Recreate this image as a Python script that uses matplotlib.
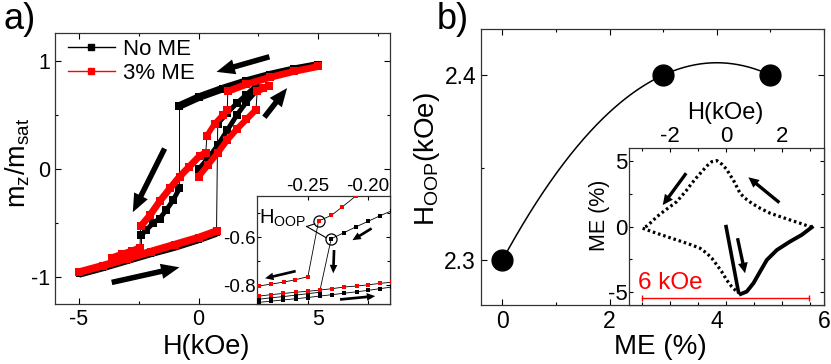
import numpy as np
import matplotlib
matplotlib.use('Agg')
import matplotlib.pyplot as plt
from matplotlib.lines import Line2D
from matplotlib.ticker import MultipleLocator, FormatStrFormatter

plt.rcParams['font.family'] = ['Liberation Sans', 'DejaVu Sans']
plt.rcParams['axes.unicode_minus'] = False
plt.rcParams['mathtext.fontset'] = 'custom'
plt.rcParams['mathtext.rm'] = 'Liberation Sans'

RED = '#ff0000'

# ---- panel a: m_z/m_sat vs H (kOe) ----
# No ME (black)
noME_upper_H = [5.0, 4.0, 3.0, 2.0, 1.0, 0.0, -0.8]
noME_upper_m = [0.965, 0.925, 0.875, 0.815, 0.745, 0.665, 0.585]
noME_middle_H = [-0.8, -1.07, -1.35, -1.63, -1.9, -2.18, -2.39]
noME_middle_m = [-0.18, -0.29, -0.38, -0.46, -0.50, -0.565, -0.61]
noME_lower_H = [-5.0, -4.0, -3.0, -2.0, -1.0, 0.0, 0.75]
noME_lower_m = [-0.975, -0.915, -0.85, -0.785, -0.725, -0.655, -0.595]
noME_rise_H = [0.8, 1.2, 1.6, 2.0, 2.4]
noME_rise_m = [0.42, 0.52, 0.61, 0.69, 0.77]
noME_init_H = [0.0, 0.4, 0.8, 1.2, 1.6, 2.0, 2.4]
noME_init_m = [0.0, 0.1, 0.22, 0.36, 0.5, 0.62, 0.72]

# 3% ME (red)
ME3_upper_H = [5.0, 4.0, 3.0, 2.0, 1.22]
ME3_upper_m = [0.95, 0.905, 0.85, 0.785, 0.72]
ME3_step_H = [1.2, 1.0, 0.67, 0.35]
ME3_step_m = [0.55, 0.5, 0.42, 0.31]
ME3_middle_H = [0.3, 0.04, -0.4, -0.79, -1.2, -1.63, -2.04, -2.42]
ME3_middle_m = [0.15, 0.12, 0.02, -0.07, -0.18, -0.30, -0.43, -0.53]
ME3_tail_H = [-2.45, -2.8, -3.2, -3.6]
ME3_tail_m = [-0.73, -0.76, -0.79, -0.82]
ME3_lower_H = [-5.0, -4.0, -3.0, -2.0, -1.0, 0.0, 0.75]
ME3_lower_m = [-0.955, -0.895, -0.83, -0.765, -0.70, -0.635, -0.575]
ME3_init_H = [0.0, 0.4, 0.8, 1.2, 1.6, 2.0, 2.4]
ME3_init_m = [-0.07, 0.04, 0.15, 0.27, 0.37, 0.46, 0.55]
ME3_join_H = [2.45, 2.7, 2.95]
ME3_join_m = [0.72, 0.75, 0.77]

# inset of a: zoom on the switching (H in T)
ins_red_desc_T = [-0.200, -0.2104, -0.2214, -0.2306, -0.2412,
                  -0.2501, -0.2607, -0.2702, -0.2807, -0.2912]
ins_red_desc_m = [-0.39, -0.430, -0.474, -0.510, -0.533,
                  -0.765, -0.778, -0.7875, -0.796, -0.804]
ins_black_desc_T = [-0.18, -0.1904, -0.2001, -0.2099, -0.2201, -0.2307,
                    -0.2404, -0.2503, -0.2603, -0.2706, -0.2808, -0.2908]
ins_black_desc_m = [-0.49, -0.512, -0.535, -0.557, -0.582, -0.607,
                    -0.830, -0.836, -0.842, -0.848, -0.853, -0.859]
ins_asc_T = [-0.2908, -0.2808, -0.2706, -0.2603, -0.2503, -0.2404,
             -0.2298, -0.2198, -0.2094, -0.1998, -0.19, -0.18]
ins_red_asc_m = [-0.846, -0.840, -0.835, -0.830, -0.826, -0.821,
                 -0.815, -0.808, -0.804, -0.799, -0.793, -0.788]
ins_black_asc_m = [-0.872, -0.867, -0.862, -0.857, -0.852, -0.846,
                   -0.840, -0.834, -0.828, -0.822, -0.815, -0.808]
hoop_red = (-0.2412, -0.533)
hoop_black = (-0.2307, -0.607)

# ---- panel b: H_OOP vs ME ----
me_percent = [0, 3, 5]
h_oop = [2.30, 2.40, 2.40]

# inset of b: ME (%) vs H (kOe)
loop_upper_H = [3.07, 2.65, 2.29, 1.94, 1.58, 1.22, 0.92, 0.68, 0.50, 0.38,
                0.26, 0.14, 0.02, -0.16, -0.33, -0.51, -0.69, -0.87, -1.05,
                -1.23, -1.41, -1.59, -1.77, -2.01, -2.25, -2.48, -2.66,
                -2.84, -2.99]
loop_upper_ME = [-0.05, 0.26, 0.51, 0.76, 1.02, 1.40, 1.78, 2.16, 2.54, 3.05,
                 3.55, 3.94, 4.37, 4.77, 5.03, 4.95, 4.62, 4.19, 3.76, 3.30,
                 2.79, 2.34, 1.90, 1.52, 1.14, 0.76, 0.38, 0.05, -0.12]
loop_lower_H = [-2.99, -2.66, -2.31, -1.95, -1.59, -1.23, -0.93, -0.69,
                -0.51, -0.33, -0.16, 0.02, 0.20, 0.38, 0.53]
loop_lower_ME = [-0.12, -0.38, -0.63, -0.89, -1.14, -1.40, -1.65, -2.03,
                 -2.41, -2.92, -3.42, -4.06, -4.57, -4.95, -5.13]
loop_rise_H = [0.53, 0.74, 0.98, 1.22, 1.46, 1.82, 2.29, 2.71, 3.07]
loop_rise_ME = [-5.13, -4.95, -4.31, -3.42, -2.54, -1.78, -1.14, -0.63, -0.05]
loop_init_H = [0.0, 0.44]
loop_init_ME = [0.0, -4.95]
scale_start = -3.02
scale_len = 6.0


def style_axes(ax, size, major=4, minor=2.5):
    ax.tick_params(which='both', direction='in', top=True, right=True,
                   labelsize=size, width=0.8)
    ax.tick_params(which='major', length=major)
    ax.tick_params(which='minor', length=minor)
    for s in ax.spines.values():
        s.set_linewidth(0.9)
        s.set_color('#333333')


def big_arrow(ax, tail, head, scale, tw=0.36, hw=1.0, hl=1.2):
    style = 'simple,tail_width=%g,head_width=%g,head_length=%g' % (tw, hw, hl)
    ax.annotate('', xy=head, xytext=tail,
                arrowprops=dict(arrowstyle=style, color='k', lw=0,
                                shrinkA=0, shrinkB=0, mutation_scale=scale))


def branch(ax, H, m, color, lw, ms, z):
    ax.plot(H, m, color=color, lw=lw, marker='s', ms=ms, mew=0,
            solid_capstyle='butt', zorder=z)


def link(ax, p, q, color='k'):
    ax.plot([p[0], q[0]], [p[1], q[1]], color=color, lw=0.7, zorder=1)


fig = plt.figure(figsize=(8.31, 3.64), dpi=100)

# ---------------- panel a ----------------
ax_a = fig.add_axes([0.0662, 0.1648, 0.4031, 0.7445])
style_axes(ax_a, 15.5)
ax_a.set_xlim(-6, 8)
ax_a.set_ylim(-1.25, 1.26)
ax_a.xaxis.set_major_locator(MultipleLocator(5))
ax_a.xaxis.set_minor_locator(MultipleLocator(2.5))
ax_a.yaxis.set_major_locator(MultipleLocator(1))
ax_a.yaxis.set_minor_locator(MultipleLocator(0.5))

# thin jump lines
link(ax_a, (noME_upper_H[-1], noME_upper_m[-1]), (noME_middle_H[0], noME_middle_m[0]))
link(ax_a, (noME_middle_H[-1], noME_middle_m[-1]),
     (noME_middle_H[-1], np.interp(noME_middle_H[-1], noME_lower_H, noME_lower_m)))
link(ax_a, (noME_lower_H[-1], noME_lower_m[-1]), (noME_rise_H[0], noME_rise_m[0]))
link(ax_a, (noME_rise_H[-1], noME_rise_m[-1]),
     (noME_rise_H[-1], np.interp(noME_rise_H[-1], noME_upper_H[::-1], noME_upper_m[::-1])))
link(ax_a, (ME3_upper_H[-1], ME3_upper_m[-1]), (ME3_step_H[0], ME3_step_m[0]))
link(ax_a, (ME3_step_H[-1], ME3_step_m[-1]), (ME3_middle_H[0], ME3_middle_m[0]))
link(ax_a, (ME3_middle_H[-1], ME3_middle_m[-1]), (ME3_tail_H[0], ME3_tail_m[0]))
link(ax_a, (ME3_init_H[-1], ME3_init_m[-1]), (ME3_join_H[0], ME3_join_m[0]))

# black loops
branch(ax_a, noME_upper_H, noME_upper_m, 'k', 5.5, 5.5, 2)
branch(ax_a, noME_lower_H, noME_lower_m, 'k', 5, 5, 2)
branch(ax_a, noME_middle_H, noME_middle_m, 'k', 3.5, 5.5, 2)
branch(ax_a, noME_rise_H, noME_rise_m, 'k', 3.5, 5.5, 2)
branch(ax_a, noME_init_H, noME_init_m, 'k', 3.5, 5.5, 2)
# red loops
branch(ax_a, ME3_upper_H, ME3_upper_m, RED, 5, 5.5, 3)
branch(ax_a, ME3_lower_H, ME3_lower_m, RED, 5.5, 5.5, 3)
branch(ax_a, ME3_step_H, ME3_step_m, RED, 4, 6, 3)
branch(ax_a, ME3_middle_H, ME3_middle_m, RED, 5, 6, 3)
branch(ax_a, ME3_tail_H, ME3_tail_m, RED, 5, 5.5, 3)
branch(ax_a, ME3_init_H, ME3_init_m, RED, 4.5, 6, 3)
branch(ax_a, ME3_join_H, ME3_join_m, RED, 5, 6, 3)

# sweep direction arrows
big_arrow(ax_a, (2.96, 1.04), (0.75, 0.90), 11)
big_arrow(ax_a, (2.75, 0.48), (3.7, 0.75), 11)
big_arrow(ax_a, (-1.42, 0.19), (-2.75, -0.40), 11)
big_arrow(ax_a, (-3.63, -1.05), (-0.8, -0.91), 11)

handles = [Line2D([], [], color='k', lw=1, marker='s', ms=4),
           Line2D([], [], color=RED, lw=1, marker='s', ms=4)]
ax_a.legend(handles, ['No ME', '3% ME'], loc='upper left',
            bbox_to_anchor=(0.026, 0.994), frameon=False, fontsize=16,
            handlelength=2.1, handletextpad=0.36, labelspacing=0.12,
            borderpad=0.2, borderaxespad=0)

ax_a.set_xlabel('H(kOe)', fontsize=19.5)
ax_a.xaxis.set_label_coords(0.453, -0.11)
ax_a.set_ylabel(r'm$_\mathregular{z}$/m$_\mathregular{sat}$', fontsize=19.5)
ax_a.yaxis.set_label_coords(-0.069, 0.52)

# inset of a
ax_ai = fig.add_axes([0.3093, 0.1648, 0.1600, 0.2967])
style_axes(ax_ai, 13.5, major=3, minor=2)
ax_ai.set_xlim(-0.2925, -0.1817)
ax_ai.set_ylim(-0.879, -0.429)
ax_ai.xaxis.set_major_locator(MultipleLocator(0.05))
ax_ai.yaxis.set_major_locator(MultipleLocator(0.2))
ax_ai.yaxis.set_minor_locator(MultipleLocator(0.1))
ax_ai.xaxis.set_major_formatter(FormatStrFormatter('%.2f'))
ax_ai.yaxis.set_major_formatter(FormatStrFormatter('%.1f'))
ax_ai.tick_params(labeltop=True, labelbottom=False, pad=1)

for T, m, c in [(ins_black_desc_T, ins_black_desc_m, 'k'),
                (ins_asc_T, ins_black_asc_m, 'k'),
                (ins_asc_T, ins_red_asc_m, RED),
                (ins_red_desc_T, ins_red_desc_m, RED)]:
    ax_ai.plot(T, m, color='k', lw=0.6, zorder=2)
    ax_ai.plot(T, m, ls='none', marker='s', ms=3.5, mew=0, color=c, zorder=3)

for c in (hoop_red, hoop_black):
    ax_ai.plot(c[0], c[1], marker='o', ms=8, mfc='none', mec='k', mew=0.9)
ax_ai.text(-0.2912, -0.545, r'H$_\mathregular{OOP}$', fontsize=14.5,
           va='baseline', ha='left')
ax_ai.plot([-0.2511, -0.2445], [-0.556, -0.545], color='k', lw=0.8)
ax_ai.plot([-0.2511, -0.2348], [-0.556, -0.603], color='k', lw=0.8)

big_arrow(ax_ai, (-0.2603, -0.742), (-0.2858, -0.772), 5.5, tw=0.35, hw=1.0, hl=1.1)
big_arrow(ax_ai, (-0.2283, -0.654), (-0.229, -0.751), 5.5, tw=0.35, hw=1.0, hl=1.1)
big_arrow(ax_ai, (-0.197, -0.564), (-0.213, -0.613), 5.5, tw=0.35, hw=1.0, hl=1.1)
big_arrow(ax_ai, (-0.2233, -0.86), (-0.194, -0.846), 5.5, tw=0.35, hw=1.0, hl=1.1)

# ---------------- panel b ----------------
ax_b = fig.add_axes([0.5788, 0.1621, 0.4128, 0.7582])
style_axes(ax_b, 16.5)
ax_b.set_xlim(-0.4, 6.0)
ax_b.set_ylim(2.2757, 2.4249)
ax_b.xaxis.set_major_locator(MultipleLocator(2))
ax_b.xaxis.set_minor_locator(MultipleLocator(1))
ax_b.yaxis.set_major_locator(MultipleLocator(0.1))
ax_b.yaxis.set_minor_locator(MultipleLocator(0.05))
ax_b.yaxis.set_major_formatter(FormatStrFormatter('%.1f'))

coef = np.polyfit(me_percent, h_oop, 2)
xs = np.linspace(min(me_percent), max(me_percent), 200)
ax_b.plot(xs, np.polyval(coef, xs), color='k', lw=1.1, zorder=2)
ax_b.plot(me_percent, h_oop, 'o', color='k', ms=15, zorder=3)

ax_b.set_xlabel('ME (%)', fontsize=20)
ax_b.xaxis.set_label_coords(0.522, -0.105)
ax_b.set_ylabel(r'H$_\mathregular{OOP}$(kOe)', fontsize=20)
ax_b.yaxis.set_label_coords(-0.114, 0.53)

# inset of b
ax_bi = fig.add_axes([0.7569, 0.1621, 0.2347, 0.4313])
style_axes(ax_bi, 16, major=3, minor=2)
ax_bi.set_xlim(-3.48, 3.51)
ax_bi.set_ylim(-5.97, 5.99)
ax_bi.xaxis.set_major_locator(MultipleLocator(2))
ax_bi.xaxis.set_minor_locator(MultipleLocator(1))
ax_bi.yaxis.set_major_locator(MultipleLocator(5))
ax_bi.yaxis.set_minor_locator(MultipleLocator(2.5))
ax_bi.tick_params(labeltop=True, labelbottom=False, pad=1)

dots = dict(color='k', lw=2.3, ls=(0, (0.8, 0.9)), dash_capstyle='butt')
ax_bi.plot(loop_upper_H, loop_upper_ME, **dots)
ax_bi.plot(loop_lower_H, loop_lower_ME, **dots)
ax_bi.plot(loop_rise_H, loop_rise_ME, color='k', lw=2.8)
ax_bi.plot(loop_init_H, loop_init_ME, color='k', lw=2.6)

ax_bi.plot([scale_start, scale_start + scale_len], [-5.45, -5.45], color=RED,
           lw=1, marker='|', ms=5, mew=1)
ax_bi.text(scale_start - 0.12, -4.75, '%d kOe' % scale_len, color=RED,
           fontsize=17.5, ha='left', va='baseline')

big_arrow(ax_bi, (-1.43, 4.07), (-2.27, 1.64), 7.5, tw=0.32, hw=0.95, hl=1.0)
big_arrow(ax_bi, (1.91, 1.83), (0.80, 3.76), 7.5, tw=0.32, hw=0.95, hl=1.0)
big_arrow(ax_bi, (0.41, -0.88), (0.68, -3.55), 7.5, tw=0.32, hw=0.95, hl=1.0)

ax_bi.set_xlabel('H(kOe)', fontsize=17)
ax_bi.xaxis.set_label_position('top')
ax_bi.xaxis.set_label_coords(0.496, 1.185)
ax_bi.set_ylabel('ME (%)', fontsize=15.5)
ax_bi.yaxis.set_label_coords(-0.097, 0.573)

fig.text(0.004, 0.995, 'a)', fontsize=26, va='top', ha='left')
fig.text(0.525, 0.995, 'b)', fontsize=26, va='top', ha='left')

fig.savefig('out.png', dpi=100)
